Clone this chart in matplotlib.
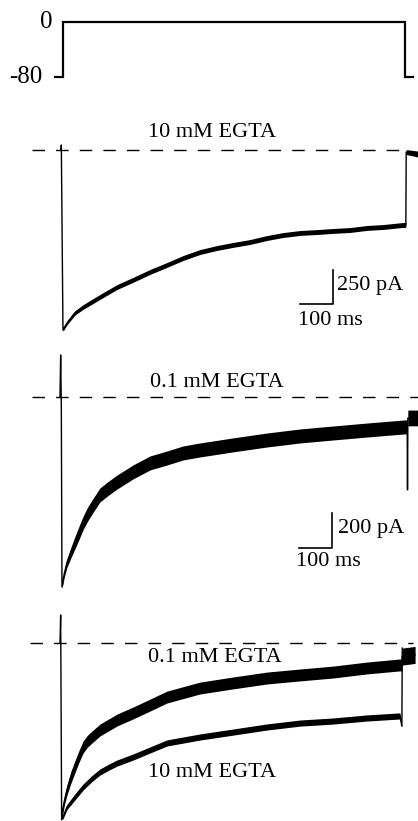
import matplotlib
matplotlib.use("Agg")
import matplotlib.pyplot as plt
import numpy as np

plt.rcParams['font.family'] = ['Liberation Serif', 'DejaVu Serif']

# ---------------- data ----------------
# voltage protocol (ms, mV)
v_time = [-18, 6, 6, 1042, 1042, 1067]
v_mv = [-80, -80, 0, 0, -80, -80]

# panel 2: 10 mM EGTA (ms, pA) and noise half-width (pA)
t_10 = [0, 1, 6, 18, 42, 67, 94, 118, 170, 218, 270, 321, 370, 421, 473, 521, 573,
        624, 673, 724, 776, 824, 876, 927, 976, 1036, 1045, 1046, 1082]
i_10 = [0, 37, -1323, -1272, -1198, -1154, -1115, -1080, -1007, -955, -896, -845,
        -794, -750, -720, -698, -676, -647, -625, -610, -603, -595, -588, -573,
        -566, -551, -551, -15, -30]
n_10 = [0, 0, 10, 14, 16, 17, 18, 18, 18, 18, 18, 18, 18, 18, 18, 18, 18,
        18, 18, 18, 18, 18, 18, 18, 18, 18, 18, 18, 22]

# panel 3: 0.1 mM EGTA (ms, pA) and noise half-width (pA)
t_01 = [-3, -1, 1, 3, 10, 18, 30, 42, 55, 67, 80, 94, 118, 145, 170, 218, 270, 321,
        370, 421, 521, 624, 724, 824, 927, 1042, 1049, 1050, 1051, 1082]
i_01 = [0, 240, -60, -1086, -1010, -949, -890, -834, -775, -720, -672, -629, -560,
        -520, -486, -429, -377, -349, -320, -303, -274, -246, -223, -206, -189,
        -171, -171, -531, -120, -120]
n_01 = [30, 0, 0, 10, 20, 25, 30, 35, 38, 38, 40, 40, 40, 40, 40, 40, 40, 40,
        40, 40, 40, 40, 40, 40, 40, 40, 40, 0, 45, 45]

# panel 4: normalised overlay
t_n01 = [-3, -1, 2, 4, 10, 18, 30, 42, 55, 67, 80, 94, 118, 170, 218, 270, 321, 421,
         521, 624, 724, 824, 927, 1027, 1033, 1034, 1073]
i_n01 = [0, 0.165, -1.04, -1.0, -0.93, -0.865, -0.79, -0.729, -0.665, -0.612,
         -0.578, -0.553, -0.512, -0.453, -0.412, -0.365, -0.318, -0.265, -0.235,
         -0.206, -0.188, -0.171, -0.147, -0.129, -0.13, -0.08, -0.07]
n_n01 = [0.05, 0, 0, 0.02, 0.025, 0.03, 0.035, 0.035, 0.035, 0.035, 0.035, 0.035,
         0.035, 0.035, 0.035, 0.035, 0.035, 0.035, 0.035, 0.035, 0.035, 0.035,
         0.035, 0.035, 0.035, 0.05, 0.05]
t_n10 = [5, 18, 42, 67, 94, 118, 145, 170, 218, 270, 321, 421, 521, 624, 724, 824,
         927, 1027, 1033, 1034]
i_n10 = [-1.03, -0.965, -0.906, -0.847, -0.797, -0.759, -0.73, -0.706, -0.671,
         -0.629, -0.588, -0.553, -0.524, -0.494, -0.471, -0.459, -0.441, -0.429,
         -0.49, -0.03]
n_n10 = [0.01, 0.015, 0.018, 0.018, 0.018, 0.018, 0.018, 0.018, 0.018, 0.018,
         0.018, 0.018, 0.018, 0.018, 0.018, 0.018, 0.018, 0.018, 0.0, 0.0]

labels_traces = ["10 mM EGTA", "0.1 mM EGTA"]
scale_time_ms = 100
scale_amp_pa = [250, 200]
v_ticks = [0, -80]

# ---------------- layout ----------------
W, H = 418, 821
fig = plt.figure(figsize=(W / 100, H / 100), dpi=100)

def add_ax(y0, y1):
    ax = fig.add_axes([0, 1 - y1 / H, 1, (y1 - y0) / H])
    ax.set_axis_off()
    ax.set_xlim(-184.8, 1081.8)
    return ax

FS = 16

# panel 1: voltage
ax1 = add_ax(0, 100)
ax1.set_ylim(-113.5, 32)
ax1.plot(v_time, v_mv, color='black', lw=1.6, solid_joinstyle='miter')
ax1.text(-25, v_ticks[0], "0", ha='right', va='center', fontsize=18)
ax1.text(-55, v_ticks[1], "-80", ha='right', va='center', fontsize=18)

def trace(ax, t, y, n, lw=1.0):
    t = np.asarray(t, float); y = np.asarray(y, float); n = np.asarray(n, float)
    ax.fill_between(t, y - n, y + n, color='black', lw=0)
    ax.plot(t, y, color='black', lw=lw, solid_joinstyle='round')

# panel 2
ax2 = add_ax(100, 340)
ax2.set_ylim(-1396.5, 367.5)
ax2.axhline(0, xmin=32 / W, xmax=400 / W, color='black', lw=1.0, ls=(0, (9, 8)))
trace(ax2, t_10, i_10, n_10)
ax2.text(458, 125, labels_traces[0], ha='center', va='center', fontsize=FS)
ax2.plot([824 - scale_time_ms, 824, 824], [-1132, -1132, -1132 + scale_amp_pa[0]],
         color='black', lw=1.2)
ax2.text(836, -1132 + scale_amp_pa[0] / 2 + 10, f"{scale_amp_pa[0]} pA",
         ha='left', va='center', fontsize=FS)
ax2.text(815, -1250, f"{scale_time_ms} ms", ha='center', va='center', fontsize=FS)

# panel 3
ax3 = add_ax(340, 600)
ax3.set_ylim(-1160.6, 325.7)
ax3.axhline(0, xmin=32 / W, xmax=1.0, color='black', lw=1.0, ls=(0, (9, 8)))
trace(ax3, t_01, i_01, n_01)
ax3.text(473, 80, labels_traces[1], ha='center', va='center', fontsize=FS)
ax3.plot([821 - scale_time_ms, 821, 821], [-863, -863, -863 + scale_amp_pa[1]],
         color='black', lw=1.2)
ax3.text(839, -863 + scale_amp_pa[1] / 2 + 10, f"{scale_amp_pa[1]} pA",
         ha='left', va='center', fontsize=FS)
ax3.text(809, -940, f"{scale_time_ms} ms", ha='center', va='center', fontsize=FS)

# panel 4
ax4 = add_ax(600, 821)
ax4.set_ylim(-1.047, 0.253)
ax4.axhline(0, xmin=30 / W, xmax=413 / W, color='black', lw=1.0, ls=(0, (9, 8)))
trace(ax4, t_n01, i_n01, n_n01)
trace(ax4, t_n10, i_n10, n_n10)
ax4.text(467, -0.088, labels_traces[1], ha='center', va='center', fontsize=FS)
ax4.text(458, -0.759, labels_traces[0], ha='center', va='center', fontsize=FS)

fig.savefig("out.png", dpi=100, facecolor='white')
